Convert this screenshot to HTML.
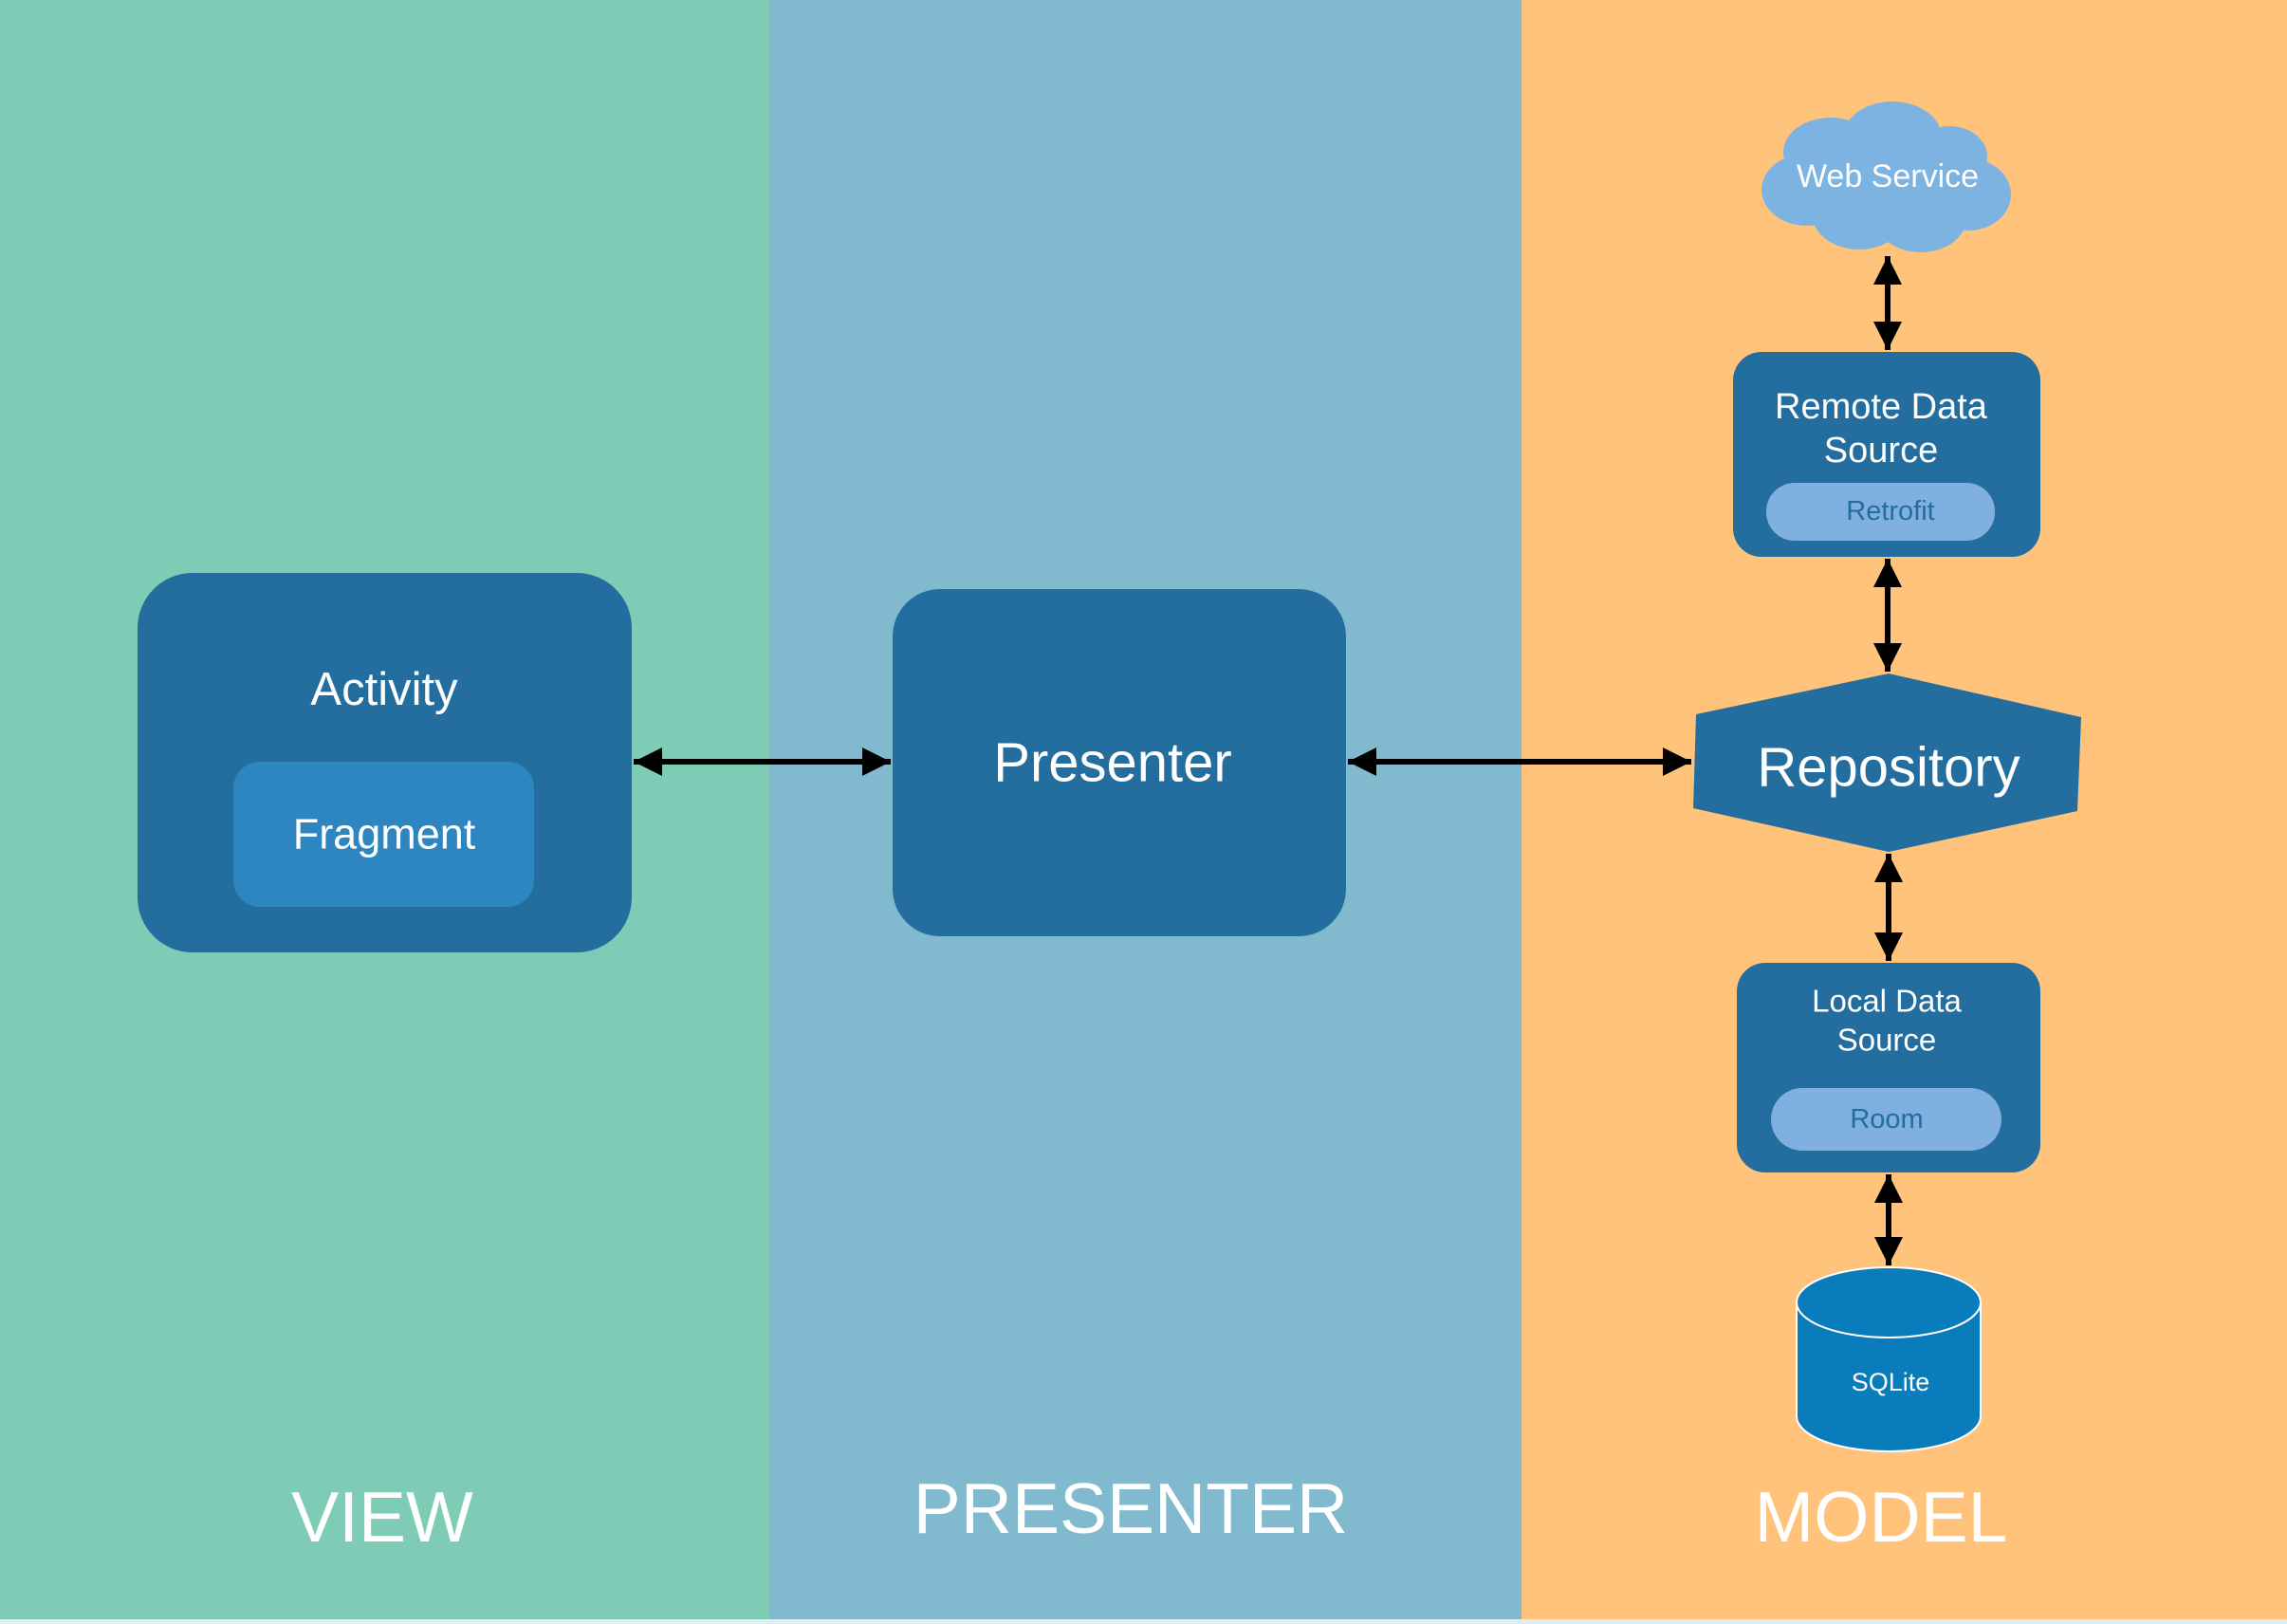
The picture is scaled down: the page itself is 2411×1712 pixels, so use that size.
<!DOCTYPE html>
<html><head><meta charset="utf-8"><style>
html,body{margin:0;padding:0;width:2411px;height:1712px;overflow:hidden}
svg{display:block}
text{font-family:"Liberation Sans",sans-serif;fill:#fff;text-anchor:middle;dominant-baseline:central}
</style></head><body>
<svg width="2411" height="1712" viewBox="0 0 2411 1712" xmlns="http://www.w3.org/2000/svg">
<defs>
<marker id="ah" viewBox="0 0 10 10" refX="10" refY="5" markerWidth="5" markerHeight="5" markerUnits="strokeWidth" orient="auto-start-reverse">
<path d="M0,0 L10,5 L0,10 z" fill="#000"/></marker>
</defs>
<rect x="0" y="0" width="811" height="1712" fill="#7ECCB5"/>
<rect x="811" y="0" width="793" height="1712" fill="#81B9CE"/>
<rect x="1604" y="0" width="807" height="1712" fill="#FFC37B"/>
<rect x="0" y="1707" width="2411" height="5" fill="#dfeef2"/>

<rect x="145" y="604" width="521" height="400" rx="58" fill="#236E9F"/>
<text x="405" y="727" font-size="49">Activity</text>
<rect x="246" y="803" width="317" height="153" rx="28" fill="#2E86C1"/>
<text x="405" y="879" font-size="45">Fragment</text>

<rect x="941" y="621" width="478" height="366" rx="50" fill="#236E9F"/>
<text x="1173" y="804" font-size="58">Presenter</text>

<polygon points="1991,710 2194,756 2190,855 1991,898 1785,852 1788,753" fill="#236E9F"/>
<text x="1991" y="809" font-size="58">Repository</text>

<g fill="#7DB3E0">
<ellipse cx="1995" cy="145" rx="52" ry="38"/>
<ellipse cx="1930" cy="160" rx="50" ry="36"/>
<ellipse cx="2055" cy="165" rx="40" ry="32"/>
<ellipse cx="1905" cy="200" rx="48" ry="38"/>
<ellipse cx="2075" cy="205" rx="45" ry="38"/>
<ellipse cx="1960" cy="225" rx="50" ry="38"/>
<ellipse cx="2025" cy="230" rx="48" ry="36"/>
<rect x="1900" y="170" width="180" height="60"/>
</g>
<text x="1990" y="186" font-size="34">Web Service</text>

<rect x="1827" y="371" width="324" height="216" rx="30" fill="#236E9F"/>
<text x="1983" y="429" font-size="38">Remote Data</text>
<text x="1983" y="475" font-size="38">Source</text>
<rect x="1862" y="509" width="241" height="61" rx="30" fill="#7FB0E0"/>
<text x="1993" y="539" font-size="29" style="fill:#236E9F">Retrofit</text>

<rect x="1831" y="1015" width="320" height="221" rx="30" fill="#236E9F"/>
<text x="1989" y="1055" font-size="33">Local Data</text>
<text x="1989" y="1096" font-size="33">Source</text>
<rect x="1867" y="1147" width="243" height="66" rx="33" fill="#7FB0E0"/>
<text x="1989" y="1180" font-size="29" style="fill:#236E9F">Room</text>

<path d="M1894,1373 L1894,1493 A97,37 0 0 0 2088,1493 L2088,1373" fill="#0A7BBB" stroke="#fff" stroke-width="2"/>
<ellipse cx="1991" cy="1373" rx="97" ry="37" fill="#0A7BBB" stroke="#fff" stroke-width="2"/>
<text x="1993" y="1457" font-size="27">SQLite</text>

<g stroke="#000" stroke-width="6" fill="none" marker-start="url(#ah)" marker-end="url(#ah)">
<line x1="668" y1="803" x2="939" y2="803"/>
<line x1="1421" y1="803" x2="1783" y2="803"/>
<line x1="1990" y1="270" x2="1990" y2="369"/>
<line x1="1990" y1="589" x2="1990" y2="708"/>
<line x1="1991" y1="900" x2="1991" y2="1013"/>
<line x1="1991" y1="1238" x2="1991" y2="1334"/>
</g>

<text x="403" y="1599" font-size="75">VIEW</text>
<text x="1192" y="1590" font-size="75">PRESENTER</text>
<text x="1983" y="1599" font-size="75">MODEL</text>
</svg>
</body></html>
